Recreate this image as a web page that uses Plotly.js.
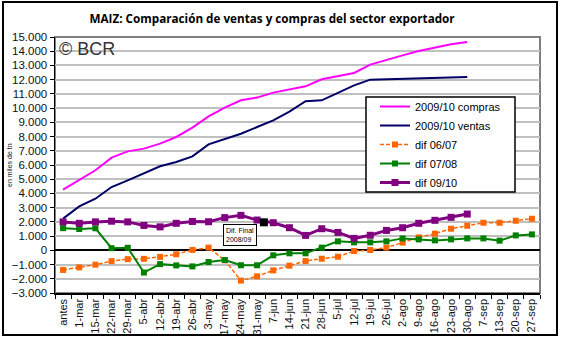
<!DOCTYPE html>
<html>
<head>
<meta charset="utf-8">
<script src="https://cdn.plot.ly/plotly-3.0.1.min.js"></script>
<style>
  html, body { margin: 0; padding: 0; background: #fff; }
  #wrap { position: relative; width: 561px; height: 341px; }
  #chart { position: absolute; left: 0; top: 0; width: 561px; height: 341px; }
  #frame { position: absolute; left: 2px; top: 1px; width: 552px; height: 331px; border: 2px solid #000; pointer-events: none; }
</style>
</head>
<body>
<div id="wrap"><div id="chart"></div><div id="frame"></div></div>
<script>
// ---- data ----
const categories = ['antes','1-mar','15-mar','22-mar','29-mar','5-abr','12-abr','19-abr','26-abr','3-may',
  '17-may','24-may','31-may','7-jun','14-jun','21-jun','28-jun','5-jul','12-jul','19-jul',
  '26-jul','2-ago','9-ago','16-ago','23-ago','30-ago','7-sep','13-sep','20-sep','27-sep'];

const compras0910 = [4270,4970,5630,6520,6960,7150,7500,7970,8630,9420,
  10030,10550,10740,11090,11320,11530,12030,12260,12470,13060,
  13410,13710,14020,14250,14490,14650];

const ventas0910 = [2230,3090,3630,4450,4920,5440,5910,6210,6610,7450,
  7830,8200,8670,9140,9750,10480,10550,11050,11600,12000,
  12030,12070,12120,12170,12190,12190];

const dif0607 = [-1380,-1200,-1010,-760,-620,-600,-460,-280,30,190,
  -700,-2130,-1830,-1410,-1080,-750,-590,-450,-50,20,
  190,540,910,1170,1520,1730,1940,1940,2080,2220];

const dif0708 = [1560,1500,1550,150,180,-1560,-970,-1060,-1130,-820,
  -680,-1050,-1050,-350,-210,-210,190,630,560,560,
  630,840,770,700,770,840,840,680,1050,1120];

const dif0910 = [2000,1900,2000,2050,2000,1750,1650,1900,2030,2010,
  2300,2460,2130,1940,1590,1050,1520,1260,840,1060,
  1400,1590,1900,2110,2320,2550];

// "Dif. Final 2008/09" point (sits between 31-may and 7-jun)
const difFinalPos = [12.42];
const difFinalVal = [1970];

const yTicks = [-3000,-2000,-1000,0,1000,2000,3000,4000,5000,6000,7000,8000,9000,10000,11000,12000,13000,14000,15000];

// ---- chart ----
const idx = arr => arr.map((_, i) => i);
const narrow = "'Liberation Sans Narrow', 'Arial Narrow', 'Liberation Sans', Arial, sans-serif";

const traces = [
  {x: idx(compras0910), y: compras0910, name: '2009/10 compras', mode: 'lines',
   line: {color: '#FF00FF', width: 2}},
  {x: idx(ventas0910), y: ventas0910, name: '2009/10 ventas', mode: 'lines',
   line: {color: '#000066', width: 2}},
  {x: idx(dif0607), y: dif0607, name: 'dif 06/07', mode: 'lines+markers',
   line: {color: '#FF6600', width: 1.5, dash: '4px,2px'},
   marker: {symbol: 'square', size: 6, color: '#FF6600'}},
  {x: idx(dif0708), y: dif0708, name: 'dif 07/08', mode: 'lines+markers',
   line: {color: '#008000', width: 2},
   marker: {symbol: 'square', size: 6, color: '#008000'}},
  {x: idx(dif0910), y: dif0910, name: 'dif 09/10', mode: 'lines+markers',
   line: {color: '#800080', width: 3},
   marker: {symbol: 'square', size: 7, color: '#800080'}},
  {x: difFinalPos, y: difFinalVal, name: 'Dif. Final 2008/09', mode: 'markers', showlegend: false,
   marker: {symbol: 'square', size: 8, color: '#000000'}}
];

const layout = {
  width: 561, height: 341,
  margin: {l: 55, r: 21, t: 37, b: 48, pad: 0},
  paper_bgcolor: 'rgba(0,0,0,0)',
  plot_bgcolor: '#fff',
  separators: ',.',
  showlegend: true,
  title: {
    text: 'MAIZ: Comparación de ventas y compras del sector exportador',
    font: {family: "'Open Sans', 'Liberation Sans', sans-serif", size: 11.7, color: '#000', weight: 'bold'},
    x: 0.485, xanchor: 'center', y: 0.945, yanchor: 'middle'
  },
  xaxis: {
    range: [-0.5, 29.5],
    tickmode: 'array',
    tickvals: categories.map((_, i) => i),
    ticktext: categories,
    tickangle: -90,
    ticks: '',
    minor: {ticks: 'outside', ticklen: 4, tick0: 0.5, dtick: 1, tickcolor: '#000', tickwidth: 1, showgrid: false},
    showgrid: false,
    zeroline: false,
    showline: true, linecolor: '#000', linewidth: 1.5,
    tickfont: {family: narrow, size: 11, color: '#111'},
    fixedrange: true
  },
  yaxis: {
    range: [-3000, 15000],
    tickmode: 'array',
    tickvals: yTicks,
    tickformat: ',d',
    ticks: 'outside', ticklen: 4, tickcolor: '#000',
    showgrid: true, gridcolor: '#c0c0c0', gridwidth: 2,
    zeroline: true, zerolinecolor: '#000', zerolinewidth: 2,
    showline: true, linecolor: '#000', linewidth: 1.5,
    tickfont: {family: narrow, size: 11.5, color: '#111'},
    fixedrange: true
  },
  legend: {
    x: (375 - 55) / 485, xref: 'paper', xanchor: 'left',
    y: 1 - (92 - 37) / 256, yanchor: 'top',
    bgcolor: 'rgba(0,0,0,0)', borderwidth: 0,
    font: {family: narrow, size: 11, color: '#000'},
    tracegroupgap: 0,
    itemwidth: 30
  },
  shapes: [
    {type: 'rect', xref: 'paper', yref: 'paper', x0: 0, x1: 1, y0: 0, y1: 1,
     line: {color: '#808080', width: 2}, layer: 'below', fillcolor: 'rgba(0,0,0,0)'},
    {type: 'rect', xref: 'paper', yref: 'paper',
     x0: (366 - 55) / 485, x1: (515 - 55) / 485,
     y0: 1 - (192 - 37) / 256, y1: 1 - (97 - 37) / 256,
     line: {color: '#000', width: 1.5}, fillcolor: '#fff', layer: 'above'}
  ],
  annotations: [
    {text: '© BCR', xref: 'paper', yref: 'paper', x: 0.005, y: 1.0, xanchor: 'left', yanchor: 'top',
     showarrow: false, font: {family: "'Liberation Sans', Arial, sans-serif", size: 18, color: '#333'}},
    {text: 'en miles de tn', xref: 'paper', yref: 'paper', x: (9 - 55) / 485, y: 0.5,
     xanchor: 'center', yanchor: 'middle', textangle: -90, showarrow: false,
     font: {family: narrow, size: 7, color: '#111'}},
    {text: 'Dif. Final<br>2008/09', xref: 'x', yref: 'y', x: 10.94, y: 1050,
     xanchor: 'center', yanchor: 'middle', showarrow: false, align: 'left',
     font: {family: narrow, size: 7, color: '#000'},
     bgcolor: '#fff', bordercolor: '#000', borderwidth: 1, borderpad: 2}
  ]
};

Plotly.newPlot('chart', traces, layout, {staticPlot: true, displayModeBar: false});
</script>
</body>
</html>
